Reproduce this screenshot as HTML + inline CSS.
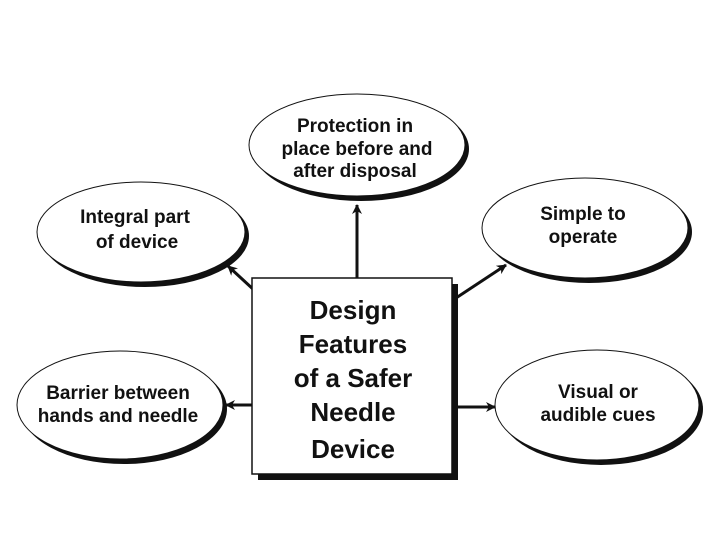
<!DOCTYPE html>
<html><head><meta charset="utf-8"><style>
html,body{margin:0;padding:0;background:#fff;}
svg{display:block;}
text{font-family:"Liberation Sans",Arial,sans-serif;font-weight:bold;fill:#111;text-anchor:middle;}
</style></head><body>
<svg width="720" height="540" viewBox="0 0 720 540" xmlns="http://www.w3.org/2000/svg">
<defs>
<marker id="ah" markerWidth="10" markerHeight="10" refX="9" refY="5" orient="auto" markerUnits="userSpaceOnUse">
<path d="M0,0 L10,5 L0,10 L3,5 Z" fill="#111"/>
</marker>
</defs>
<g stroke="#111" stroke-width="3" fill="none">
<line x1="357" y1="278" x2="357" y2="205" marker-end="url(#ah)"/>
<line x1="254" y1="290" x2="228" y2="266" marker-end="url(#ah)"/>
<line x1="456" y1="298" x2="506" y2="265" marker-end="url(#ah)"/>
<line x1="252" y1="405" x2="226" y2="405" marker-end="url(#ah)"/>
<line x1="456" y1="407" x2="495" y2="407" marker-end="url(#ah)"/>
</g>
<g>
<ellipse cx="361" cy="149" rx="108" ry="52" fill="#111"/>
<ellipse cx="357" cy="145" rx="108" ry="51" fill="#fff" stroke="#111" stroke-width="1"/>
<ellipse cx="145" cy="236" rx="104" ry="51" fill="#111"/>
<ellipse cx="141" cy="232" rx="104" ry="50" fill="#fff" stroke="#111" stroke-width="1"/>
<ellipse cx="124" cy="409" rx="103" ry="55" fill="#111"/>
<ellipse cx="120" cy="405" rx="103" ry="54" fill="#fff" stroke="#111" stroke-width="1"/>
<ellipse cx="589" cy="232" rx="103" ry="51" fill="#111"/>
<ellipse cx="585" cy="228" rx="103" ry="50" fill="#fff" stroke="#111" stroke-width="1"/>
<ellipse cx="601" cy="409" rx="102" ry="56" fill="#111"/>
<ellipse cx="597" cy="405" rx="102" ry="55" fill="#fff" stroke="#111" stroke-width="1"/>
</g>
<rect x="258" y="284" width="200" height="196" fill="#111"/>
<rect x="252" y="278" width="200" height="196" fill="#fff" stroke="#111" stroke-width="1.5"/>
<g font-size="19">
<text x="355" y="132">Protection in</text>
<text x="357" y="155">place before and</text>
<text x="355" y="177">after disposal</text>
<text x="135" y="223">Integral part</text>
<text x="137" y="248">of device</text>
<text x="118" y="399">Barrier between</text>
<text x="118" y="422">hands and needle</text>
<text x="583" y="220">Simple to</text>
<text x="583" y="243">operate</text>
<text x="598" y="398">Visual or</text>
<text x="598" y="421">audible cues</text>
</g>
<g font-size="26">
<text x="353" y="319">Design</text>
<text x="353" y="353">Features</text>
<text x="353" y="387">of a Safer</text>
<text x="353" y="421">Needle</text>
<text x="353" y="458">Device</text>
</g>
</svg>
</body></html>
